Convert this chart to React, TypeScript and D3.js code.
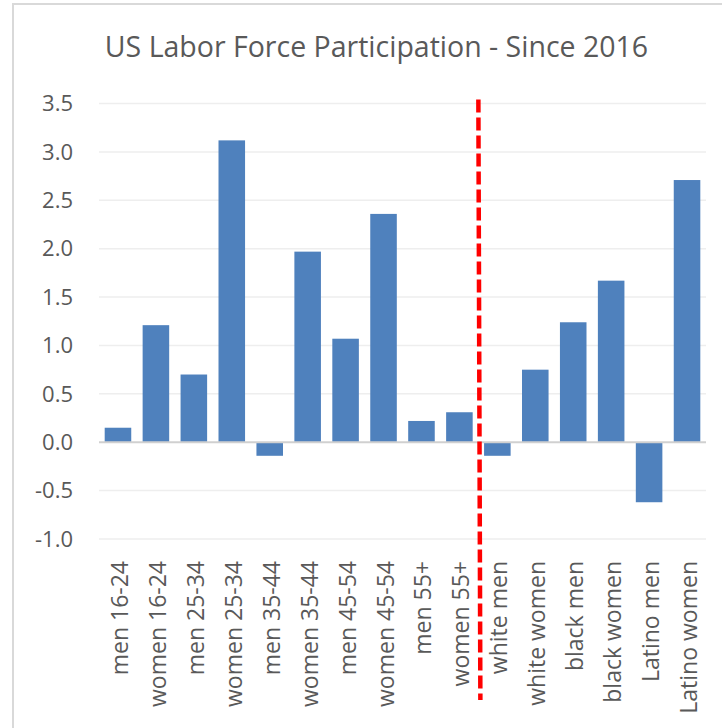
import React, { useEffect, useRef } from 'react';
import * as d3 from 'd3';

// categories and values (change in points since 2016)
const categories = [
  'men 16-24', 'women 16-24', 'men 25-34', 'women 25-34', 'men 35-44',
  'women 35-44', 'men 45-54', 'women 45-54', 'men 55+', 'women 55+',
  'white men', 'white women', 'black men', 'black women', 'Latino men', 'Latino women',
];
const values = [
  0.15, 1.21, 0.7, 3.12, -0.14, 1.97, 1.07, 2.36, 0.22, 0.31,
  -0.14, 0.75, 1.24, 1.67, -0.62, 2.71,
];
const yTicks = [-1.0, -0.5, 0.0, 0.5, 1.0, 1.5, 2.0, 2.5, 3.0, 3.5];
// the red dashed divider sits before this category
const dividerBefore = 'white men';

const App = () => {
  const svgRef = useRef(null);

  useEffect(() => {
    const W = 722;
    const H = 728;
    const font = "'Open Sans', 'Noto Sans', sans-serif";
    const textColor = '#595959';

    const svg = d3.select(svgRef.current);
    svg.selectAll('*').remove();

    // outer chart frame (right/bottom edges fall outside the picture)
    svg.append('rect')
      .attr('x', 13).attr('y', 4)
      .attr('width', W + 20).attr('height', H + 20)
      .attr('fill', '#fff')
      .attr('stroke', '#d9d9d9')
      .attr('stroke-width', 2);

    // title
    svg.append('text')
      .attr('x', 376.5)
      .attr('y', 57)
      .attr('text-anchor', 'middle')
      .style('font-family', font)
      .style('font-size', '28.5px')
      .style('fill', textColor)
      .text('US Labor Force Participation - Since 2016');

    const x = d3.scaleBand()
      .domain(categories)
      .range([99, 706])
      .paddingInner(0.3)
      .paddingOuter(0.15);

    const y = d3.scaleLinear()
      .domain([-1, 3.5])
      .range([539, 103.6]);

    // gridlines
    svg.append('g')
      .selectAll('line')
      .data(yTicks.filter((t) => t !== 0))
      .enter()
      .append('line')
      .attr('x1', 99).attr('x2', 706)
      .attr('y1', (d) => y(d)).attr('y2', (d) => y(d))
      .attr('stroke', '#eeeeee')
      .attr('stroke-width', 1.5);

    // y tick labels (plain hyphen for negatives, like Excel)
    svg.append('g')
      .selectAll('text')
      .data(yTicks)
      .enter()
      .append('text')
      .attr('x', 73)
      .attr('y', (d) => y(d))
      .attr('dy', '0.35em')
      .attr('text-anchor', 'end')
      .style('font-family', font)
      .style('font-size', '22px')
      .style('fill', textColor)
      .text((d) => d.toFixed(1));

    // bars
    svg.append('g')
      .selectAll('rect')
      .data(values)
      .enter()
      .append('rect')
      .attr('x', (d, i) => x(categories[i]))
      .attr('width', x.bandwidth())
      .attr('y', (d) => y(Math.max(0, d)))
      .attr('height', (d) => Math.abs(y(d) - y(0)))
      .attr('fill', '#4f81bd');

    // zero axis line
    svg.append('line')
      .attr('x1', 99).attr('x2', 706)
      .attr('y1', y(0)).attr('y2', y(0))
      .attr('stroke', '#d0d0d0')
      .attr('stroke-width', 2);

    // category labels, rotated
    svg.append('g')
      .selectAll('text')
      .data(categories)
      .enter()
      .append('text')
      .attr('transform', (d) => `translate(${x(d) + x.bandwidth() / 2 + 10}, 561) rotate(-90)`)
      .attr('text-anchor', 'end')
      .style('font-family', font)
      .style('font-size', '23px')
      .style('fill', textColor)
      .text((d) => d);

    // red dashed divider
    const divX = x(dividerBefore) - (x.step() * x.paddingInner()) / 2;
    svg.append('line')
      .attr('x1', divX).attr('x2', divX + 2)
      .attr('y1', y(3.5) - 4).attr('y2', 700)
      .attr('stroke', '#ff0000')
      .attr('stroke-width', 4.5)
      .attr('stroke-dasharray', '13 5');
  }, []);

  return (
    <svg
      ref={svgRef}
      width={722}
      height={728}
      style={{ position: 'absolute', left: 0, top: 0, background: '#fff' }}
    />
  );
};

export default App;
